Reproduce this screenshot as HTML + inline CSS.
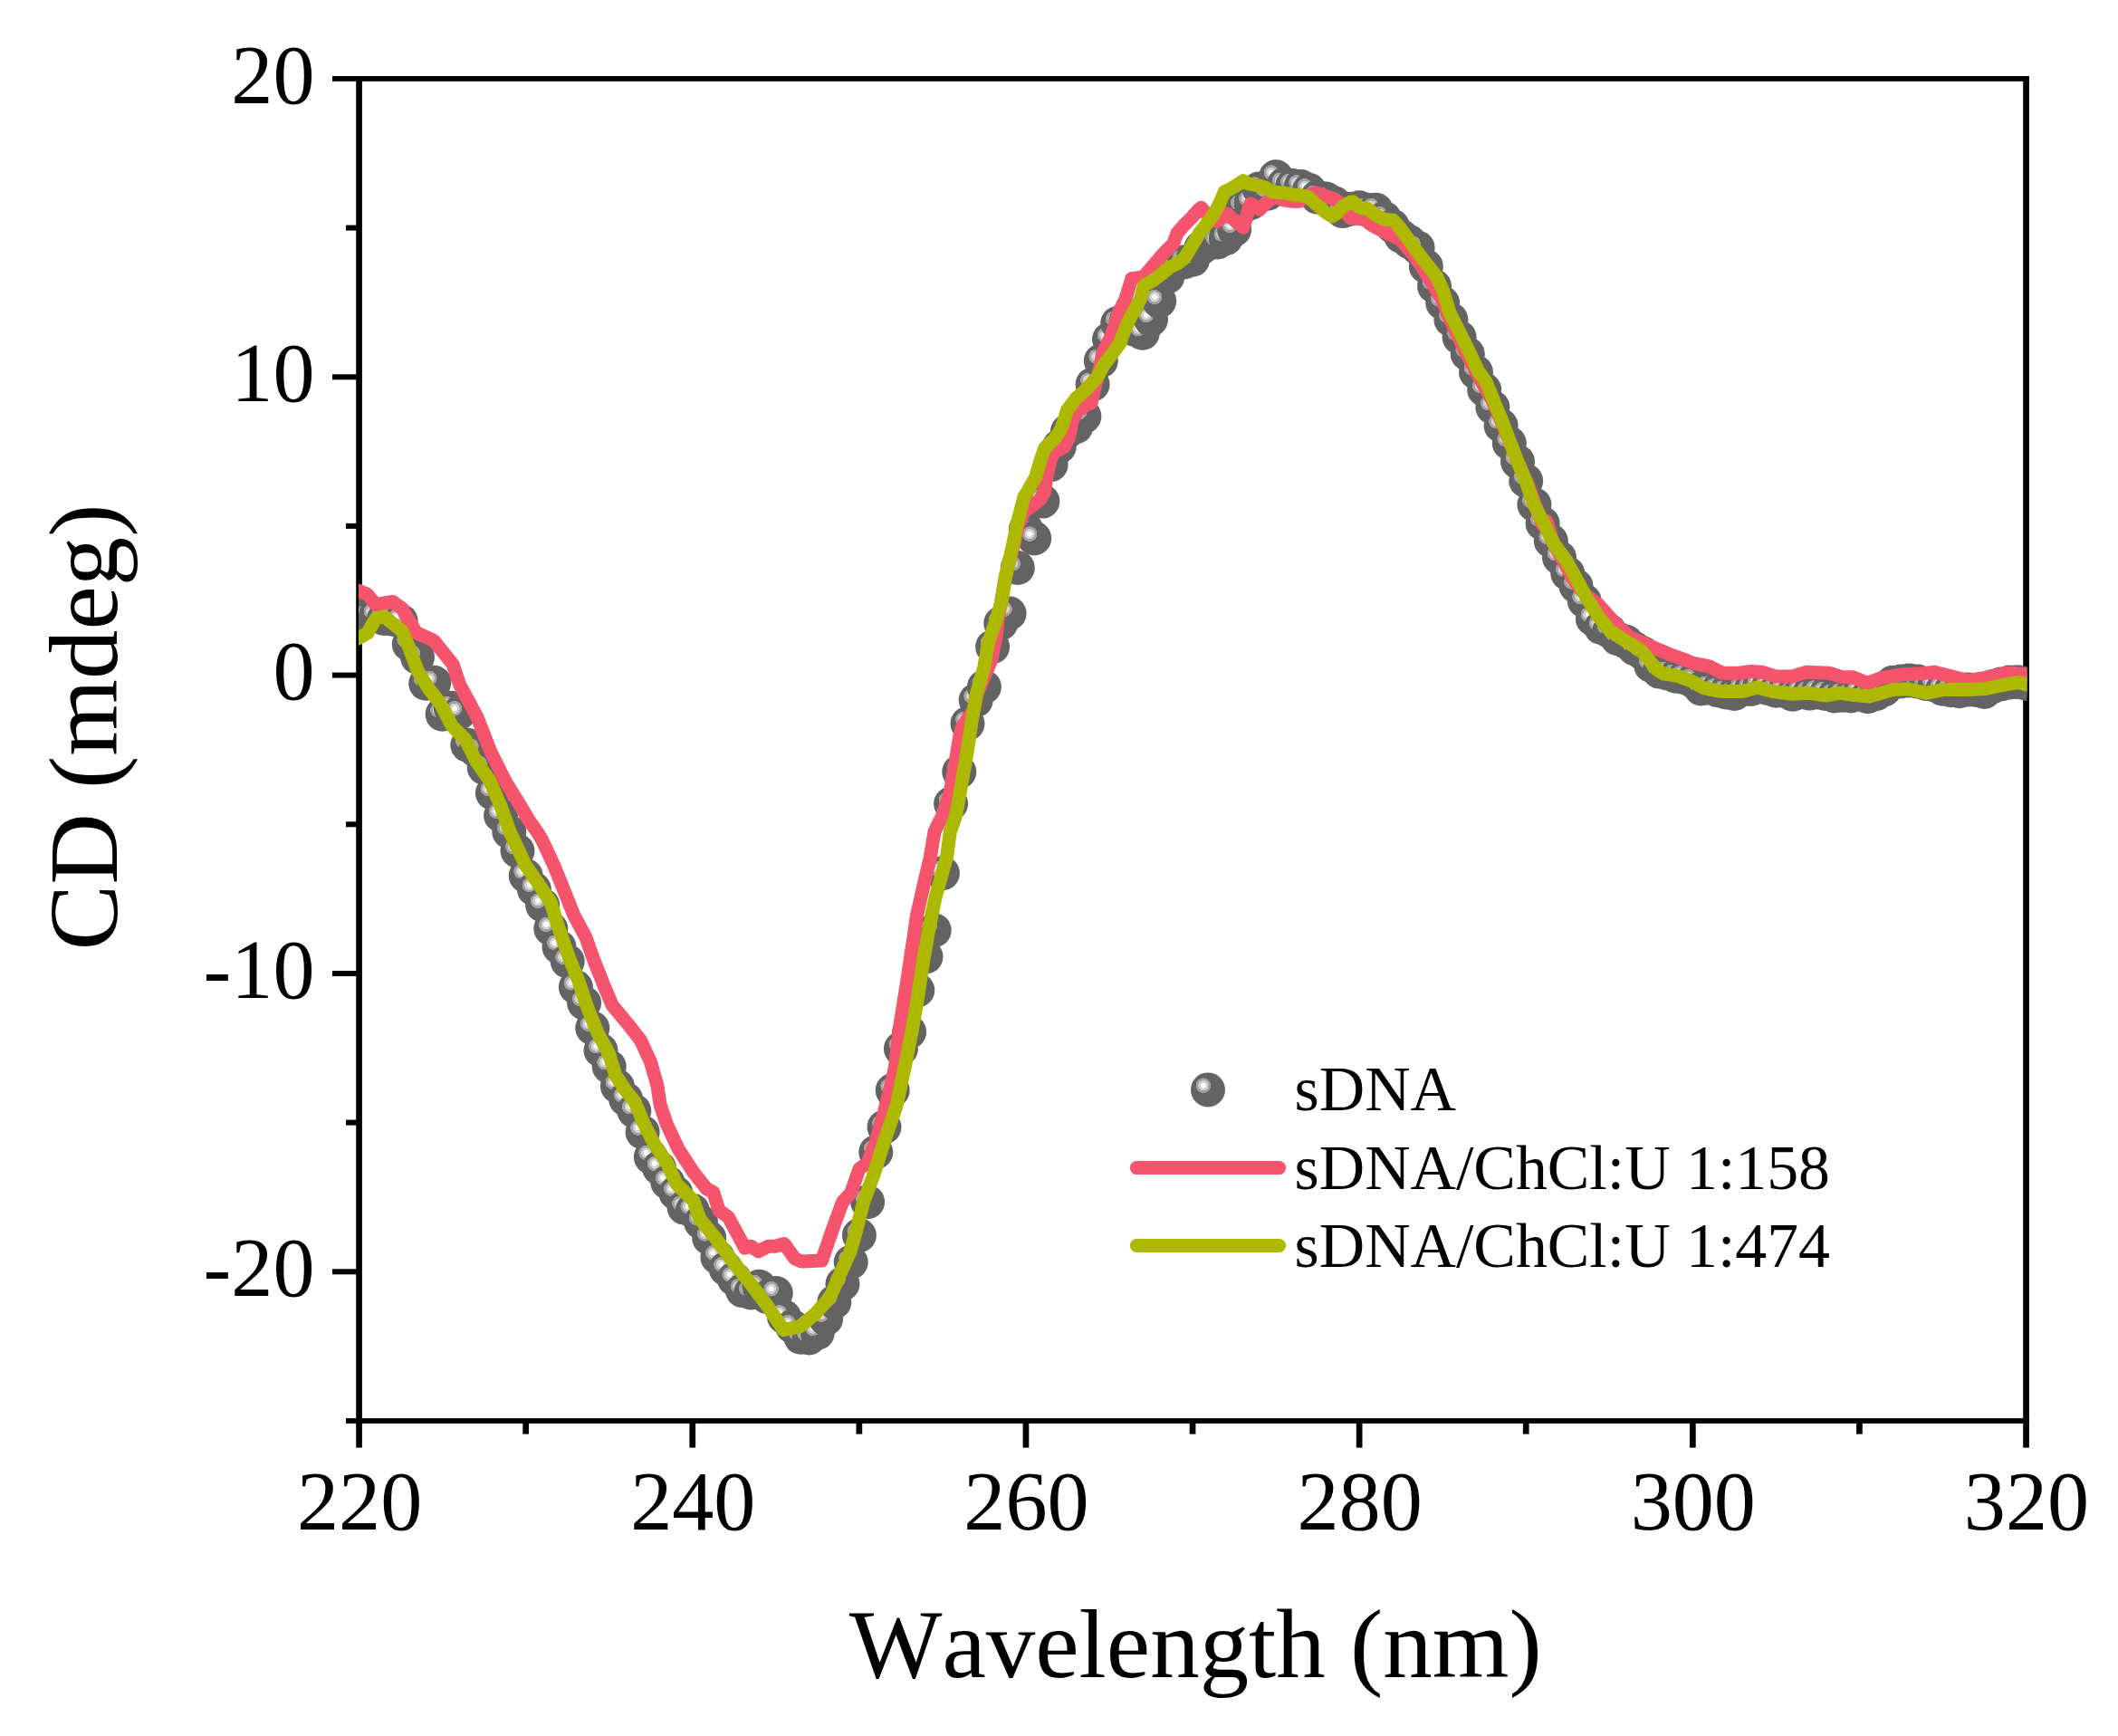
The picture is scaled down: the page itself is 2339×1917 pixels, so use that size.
<!DOCTYPE html>
<html lang="en"><head><meta charset="utf-8"><title>CD spectra</title>
<style>
html,body{margin:0;padding:0;background:#fff}
body{width:2339px;height:1917px;overflow:hidden}
svg{display:block}
text{font-family:"Liberation Serif","Times New Roman",serif;fill:#000;font-kerning:none}
.tk{font-size:92.2px}
.ax{font-size:108.9px}
.lg{font-size:69.8px}
</style></head>
<body>
<svg width="2339" height="1917" viewBox="0 0 2339 1917">
<defs>
<radialGradient id="ball" cx="0.365" cy="0.375" r="0.22" fx="0.365" fy="0.375" gradientUnits="objectBoundingBox">
<stop offset="0" stop-color="#ffffff"/><stop offset="0.34" stop-color="#ffffff"/><stop offset="0.36" stop-color="#d2d2d2"/><stop offset="0.66" stop-color="#d2d2d2"/><stop offset="0.68" stop-color="#a2a2a2"/><stop offset="0.97" stop-color="#a2a2a2"/><stop offset="1" stop-color="#636363"/>
</radialGradient>
<clipPath id="plot"><rect x="396.0" y="86.9" width="1842.5" height="1482.1"/></clipPath>
</defs>
<rect width="2339" height="1917" fill="#fff"/>
<g fill="#000">
<rect x="393.2" y="84.0" width="6.7" height="1514.6"/>
<rect x="2234.2" y="84.0" width="6.7" height="1514.6"/>
<rect x="367.0" y="84.0" width="1873.8" height="5.8"/>
<rect x="382.0" y="1566.1" width="1858.8" height="5.8"/>
<rect x="367" y="413.3" width="29.6" height="6.0"/>
<rect x="367" y="742.6" width="29.6" height="6.0"/>
<rect x="367" y="1072.0" width="29.6" height="6.0"/>
<rect x="367" y="1401.3" width="29.6" height="6.0"/>
<rect x="382" y="248.6" width="14.6" height="6.0"/>
<rect x="382" y="577.9" width="14.6" height="6.0"/>
<rect x="382" y="907.3" width="14.6" height="6.0"/>
<rect x="382" y="1236.6" width="14.6" height="6.0"/>
<rect x="761.4" y="1569.0" width="6.7" height="29.6"/>
<rect x="1129.6" y="1569.0" width="6.7" height="29.6"/>
<rect x="1497.8" y="1569.0" width="6.7" height="29.6"/>
<rect x="1866.0" y="1569.0" width="6.7" height="29.6"/>
<rect x="577.3" y="1569.0" width="6.7" height="14.6"/>
<rect x="945.5" y="1569.0" width="6.7" height="14.6"/>
<rect x="1313.7" y="1569.0" width="6.7" height="14.6"/>
<rect x="1681.9" y="1569.0" width="6.7" height="14.6"/>
<rect x="2050.1" y="1569.0" width="6.7" height="14.6"/>
</g>
<g clip-path="url(#plot)">
<g fill="url(#ball)">
<circle cx="396.6" cy="677.4" r="19"/>
<circle cx="405.8" cy="682.0" r="19"/>
<circle cx="415.0" cy="679.7" r="19"/>
<circle cx="424.2" cy="683.0" r="19"/>
<circle cx="433.4" cy="683.7" r="19"/>
<circle cx="442.6" cy="685.7" r="19"/>
<circle cx="451.8" cy="711.4" r="19"/>
<circle cx="461.0" cy="725.8" r="19"/>
<circle cx="470.2" cy="754.8" r="19"/>
<circle cx="479.4" cy="753.8" r="19"/>
<circle cx="488.6" cy="788.8" r="19"/>
<circle cx="497.8" cy="781.8" r="19"/>
<circle cx="507.1" cy="787.1" r="19"/>
<circle cx="516.3" cy="822.7" r="19"/>
<circle cx="525.5" cy="828.6" r="19"/>
<circle cx="534.7" cy="847.7" r="19"/>
<circle cx="543.9" cy="875.7" r="19"/>
<circle cx="553.1" cy="900.4" r="19"/>
<circle cx="562.3" cy="918.5" r="19"/>
<circle cx="571.5" cy="939.6" r="19"/>
<circle cx="580.7" cy="967.1" r="19"/>
<circle cx="589.9" cy="981.9" r="19"/>
<circle cx="599.1" cy="999.5" r="19"/>
<circle cx="608.3" cy="1025.6" r="19"/>
<circle cx="617.5" cy="1045.7" r="19"/>
<circle cx="626.7" cy="1061.5" r="19"/>
<circle cx="635.9" cy="1090.1" r="19"/>
<circle cx="645.1" cy="1107.6" r="19"/>
<circle cx="654.3" cy="1135.2" r="19"/>
<circle cx="663.5" cy="1159.9" r="19"/>
<circle cx="672.7" cy="1177.7" r="19"/>
<circle cx="681.9" cy="1199.6" r="19"/>
<circle cx="691.1" cy="1213.8" r="19"/>
<circle cx="700.3" cy="1226.8" r="19"/>
<circle cx="709.6" cy="1250.2" r="19"/>
<circle cx="718.8" cy="1277.8" r="19"/>
<circle cx="728.0" cy="1289.7" r="19"/>
<circle cx="737.2" cy="1305.5" r="19"/>
<circle cx="746.4" cy="1317.4" r="19"/>
<circle cx="755.6" cy="1333.6" r="19"/>
<circle cx="764.8" cy="1336.8" r="19"/>
<circle cx="774.0" cy="1349.6" r="19"/>
<circle cx="783.2" cy="1367.1" r="19"/>
<circle cx="792.4" cy="1388.2" r="19"/>
<circle cx="801.6" cy="1401.0" r="19"/>
<circle cx="810.8" cy="1412.2" r="19"/>
<circle cx="820.0" cy="1425.1" r="19"/>
<circle cx="829.2" cy="1427.4" r="19"/>
<circle cx="838.4" cy="1420.8" r="19"/>
<circle cx="847.6" cy="1432.3" r="19"/>
<circle cx="856.8" cy="1428.0" r="19"/>
<circle cx="866.0" cy="1454.1" r="19"/>
<circle cx="875.2" cy="1464.9" r="19"/>
<circle cx="884.4" cy="1476.8" r="19"/>
<circle cx="893.6" cy="1477.4" r="19"/>
<circle cx="902.8" cy="1471.8" r="19"/>
<circle cx="912.1" cy="1456.4" r="19"/>
<circle cx="921.3" cy="1437.9" r="19"/>
<circle cx="930.5" cy="1417.8" r="19"/>
<circle cx="939.7" cy="1393.8" r="19"/>
<circle cx="948.9" cy="1364.1" r="19"/>
<circle cx="958.1" cy="1327.3" r="19"/>
<circle cx="967.3" cy="1272.3" r="19"/>
<circle cx="976.5" cy="1244.6" r="19"/>
<circle cx="985.7" cy="1204.1" r="19"/>
<circle cx="994.9" cy="1158.0" r="19"/>
<circle cx="1004.1" cy="1139.5" r="19"/>
<circle cx="1013.3" cy="1093.4" r="19"/>
<circle cx="1022.5" cy="1056.5" r="19"/>
<circle cx="1031.7" cy="1027.2" r="19"/>
<circle cx="1040.9" cy="964.3" r="19"/>
<circle cx="1050.1" cy="887.6" r="19"/>
<circle cx="1059.3" cy="852.3" r="19"/>
<circle cx="1068.5" cy="799.0" r="19"/>
<circle cx="1077.7" cy="773.3" r="19"/>
<circle cx="1086.9" cy="758.5" r="19"/>
<circle cx="1096.1" cy="714.3" r="19"/>
<circle cx="1105.3" cy="688.3" r="19"/>
<circle cx="1114.6" cy="677.4" r="19"/>
<circle cx="1123.8" cy="627.0" r="19"/>
<circle cx="1133.0" cy="584.2" r="19"/>
<circle cx="1142.2" cy="594.4" r="19"/>
<circle cx="1151.4" cy="553.6" r="19"/>
<circle cx="1160.6" cy="513.1" r="19"/>
<circle cx="1169.8" cy="493.0" r="19"/>
<circle cx="1179.0" cy="476.2" r="19"/>
<circle cx="1188.2" cy="471.3" r="19"/>
<circle cx="1197.4" cy="459.7" r="19"/>
<circle cx="1206.6" cy="424.5" r="19"/>
<circle cx="1215.8" cy="398.5" r="19"/>
<circle cx="1225.0" cy="374.8" r="19"/>
<circle cx="1234.2" cy="357.0" r="19"/>
<circle cx="1243.4" cy="355.3" r="19"/>
<circle cx="1252.6" cy="363.6" r="19"/>
<circle cx="1261.8" cy="367.8" r="19"/>
<circle cx="1271.0" cy="352.7" r="19"/>
<circle cx="1280.2" cy="332.6" r="19"/>
<circle cx="1289.4" cy="305.6" r="19"/>
<circle cx="1298.6" cy="291.4" r="19"/>
<circle cx="1307.8" cy="289.5" r="19"/>
<circle cx="1317.1" cy="286.8" r="19"/>
<circle cx="1326.3" cy="274.0" r="19"/>
<circle cx="1335.5" cy="268.4" r="19"/>
<circle cx="1344.7" cy="267.4" r="19"/>
<circle cx="1353.9" cy="263.1" r="19"/>
<circle cx="1363.1" cy="253.6" r="19"/>
<circle cx="1372.3" cy="228.5" r="19"/>
<circle cx="1381.5" cy="223.9" r="19"/>
<circle cx="1390.7" cy="208.4" r="19"/>
<circle cx="1399.9" cy="213.7" r="19"/>
<circle cx="1409.1" cy="195.3" r="19"/>
<circle cx="1418.3" cy="203.5" r="19"/>
<circle cx="1427.5" cy="205.1" r="19"/>
<circle cx="1436.7" cy="206.1" r="19"/>
<circle cx="1445.9" cy="210.1" r="19"/>
<circle cx="1455.1" cy="217.7" r="19"/>
<circle cx="1464.3" cy="219.6" r="19"/>
<circle cx="1473.5" cy="224.2" r="19"/>
<circle cx="1482.7" cy="233.1" r="19"/>
<circle cx="1491.9" cy="230.8" r="19"/>
<circle cx="1501.1" cy="229.2" r="19"/>
<circle cx="1510.3" cy="231.8" r="19"/>
<circle cx="1519.5" cy="231.8" r="19"/>
<circle cx="1528.8" cy="241.0" r="19"/>
<circle cx="1538.0" cy="249.9" r="19"/>
<circle cx="1547.2" cy="260.8" r="19"/>
<circle cx="1556.4" cy="267.1" r="19"/>
<circle cx="1565.6" cy="273.6" r="19"/>
<circle cx="1574.8" cy="294.1" r="19"/>
<circle cx="1584.0" cy="316.1" r="19"/>
<circle cx="1593.2" cy="334.6" r="19"/>
<circle cx="1602.4" cy="353.0" r="19"/>
<circle cx="1611.6" cy="372.5" r="19"/>
<circle cx="1620.8" cy="390.9" r="19"/>
<circle cx="1630.0" cy="411.0" r="19"/>
<circle cx="1639.2" cy="430.4" r="19"/>
<circle cx="1648.4" cy="449.8" r="19"/>
<circle cx="1657.6" cy="469.9" r="19"/>
<circle cx="1666.8" cy="489.4" r="19"/>
<circle cx="1676.0" cy="509.8" r="19"/>
<circle cx="1685.2" cy="530.9" r="19"/>
<circle cx="1694.4" cy="557.2" r="19"/>
<circle cx="1703.6" cy="578.0" r="19"/>
<circle cx="1712.8" cy="597.4" r="19"/>
<circle cx="1722.0" cy="615.8" r="19"/>
<circle cx="1731.3" cy="633.3" r="19"/>
<circle cx="1740.5" cy="647.1" r="19"/>
<circle cx="1749.7" cy="663.6" r="19"/>
<circle cx="1758.9" cy="683.4" r="19"/>
<circle cx="1768.1" cy="693.0" r="19"/>
<circle cx="1777.3" cy="696.7" r="19"/>
<circle cx="1786.5" cy="705.3" r="19"/>
<circle cx="1795.7" cy="708.7" r="19"/>
<circle cx="1804.9" cy="716.1" r="19"/>
<circle cx="1814.1" cy="721.3" r="19"/>
<circle cx="1823.3" cy="734.9" r="19"/>
<circle cx="1832.5" cy="741.6" r="19"/>
<circle cx="1841.7" cy="743.6" r="19"/>
<circle cx="1850.9" cy="746.7" r="19"/>
<circle cx="1860.1" cy="748.2" r="19"/>
<circle cx="1869.3" cy="751.9" r="19"/>
<circle cx="1878.5" cy="760.4" r="19"/>
<circle cx="1887.7" cy="759.6" r="19"/>
<circle cx="1896.9" cy="762.3" r="19"/>
<circle cx="1906.1" cy="764.5" r="19"/>
<circle cx="1915.3" cy="766.0" r="19"/>
<circle cx="1924.5" cy="761.5" r="19"/>
<circle cx="1933.8" cy="761.0" r="19"/>
<circle cx="1943.0" cy="758.3" r="19"/>
<circle cx="1952.2" cy="760.0" r="19"/>
<circle cx="1961.4" cy="762.8" r="19"/>
<circle cx="1970.6" cy="762.9" r="19"/>
<circle cx="1979.8" cy="766.8" r="19"/>
<circle cx="1989.0" cy="764.2" r="19"/>
<circle cx="1998.2" cy="765.6" r="19"/>
<circle cx="2007.4" cy="764.4" r="19"/>
<circle cx="2016.6" cy="766.1" r="19"/>
<circle cx="2025.8" cy="768.5" r="19"/>
<circle cx="2035.0" cy="767.7" r="19"/>
<circle cx="2044.2" cy="768.4" r="19"/>
<circle cx="2053.4" cy="765.5" r="19"/>
<circle cx="2062.6" cy="769.2" r="19"/>
<circle cx="2071.8" cy="766.2" r="19"/>
<circle cx="2081.0" cy="761.4" r="19"/>
<circle cx="2090.2" cy="753.7" r="19"/>
<circle cx="2099.4" cy="752.5" r="19"/>
<circle cx="2108.6" cy="751.4" r="19"/>
<circle cx="2117.8" cy="752.6" r="19"/>
<circle cx="2127.0" cy="755.0" r="19"/>
<circle cx="2136.3" cy="756.4" r="19"/>
<circle cx="2145.5" cy="760.7" r="19"/>
<circle cx="2154.7" cy="762.2" r="19"/>
<circle cx="2163.9" cy="763.2" r="19"/>
<circle cx="2173.1" cy="761.6" r="19"/>
<circle cx="2182.3" cy="761.9" r="19"/>
<circle cx="2191.5" cy="763.9" r="19"/>
<circle cx="2200.7" cy="758.1" r="19"/>
<circle cx="2209.9" cy="755.4" r="19"/>
<circle cx="2219.1" cy="753.6" r="19"/>
<circle cx="2228.3" cy="753.3" r="19"/>
<circle cx="2237.5" cy="754.7" r="19"/>
</g>
<polyline fill="none" stroke="#f5546c" stroke-width="15" stroke-linejoin="round" stroke-linecap="butt" points="384.9,648.3 396.6,652.5 405.8,656.4 415.0,667.8 424.2,666.0 433.8,664.5 443.9,671.9 459.6,698.6 478.9,707.3 500.1,733.6 507.5,755.7 526.9,791.7 541.6,829.5 559.1,864.5 571.1,883.8 584.0,905.6 594.1,919.9 598.7,927.6 611.6,955.3 622.7,982.9 633.8,1010.6 646.7,1034.5 655.9,1060.4 666.9,1088.0 676.2,1110.1 694.6,1132.2 707.5,1148.8 718.5,1172.8 725.9,1198.6 729.1,1220.0 736.1,1240.8 749.0,1268.5 765.6,1294.3 780.3,1312.7 787.7,1316.4 794.1,1336.7 804.3,1344.0 822.7,1378.1 829.2,1376.3 837.4,1381.8 848.5,1376.3 855.9,1376.3 866.0,1373.5 878.0,1390.1 885.4,1392.9 907.5,1392.0 921.3,1352.3 930.5,1327.4 939.7,1317.3 949.0,1290.6 958.2,1284.1 967.2,1261.1 976.4,1227.9 985.7,1191.2 988.7,1176.5 994.2,1130.4 1001.6,1084.3 1007.1,1047.4 1012.6,1010.6 1020.9,973.7 1027.4,946.1 1032.0,918.4 1041.0,900.1 1048.9,876.5 1055.4,839.6 1060.0,812.0 1062.6,802.7 1075.1,784.3 1079.2,765.9 1088.4,743.8 1094.8,729.0 1100.3,701.4 1102.2,682.9 1105.7,664.5 1110.3,636.9 1119.9,600.0 1124.5,579.6 1131.0,564.9 1148.5,552.0 1153.4,543.1 1155.9,526.4 1160.2,508.0 1163.8,499.4 1174.9,493.9 1180.4,483.4 1184.1,465.0 1189.6,454.0 1198.2,447.8 1205.0,444.8 1207.4,435.6 1209.9,423.3 1214.8,406.1 1217.2,391.4 1224.6,376.6 1230.7,360.7 1235.6,344.7 1243.0,330.0 1249.8,307.7 1262.7,305.9 1273.7,293.0 1284.8,280.1 1295.8,269.0 1300.0,257.5 1307.4,248.9 1316.0,240.4 1323.3,232.0 1326.4,229.3 1334.4,238.4 1343.8,244.5 1354.6,236.1 1373.0,251.2 1381.0,225.0 1391.5,231.1 1398.2,223.8 1408.0,216.9 1417.8,221.1 1427.7,222.2 1435.0,222.3 1441.2,216.9 1453.5,212.7 1463.3,216.4 1474.3,220.1 1481.7,226.2 1486.6,234.7 1491.5,240.7 1506.2,241.9 1513.6,247.6 1521.0,252.1 1546.6,264.4 1560.2,280.4 1570.0,293.9 1582.5,313.9 1592.6,331.6 1602.6,355.2 1612.4,376.0 1622.3,395.7 1629.6,409.9 1647.1,440.6 1656.9,462.7 1666.6,486.7 1676.4,510.7 1686.5,532.8 1694.5,554.9 1703.7,580.0 1707.9,575.3 1715.3,599.3 1726.4,619.5 1737.4,639.8 1750.3,656.4 1765.1,667.4 1779.8,684.0 1798.2,702.5 1822.2,713.5 1844.3,722.7 1862.7,729.2 1869.0,732.2 1887.4,735.8 1902.2,743.2 1920.6,743.2 1933.5,741.4 1946.4,742.3 1961.2,746.9 1979.6,746.9 1994.3,742.3 2020.1,743.2 2034.9,747.8 2045.9,747.8 2062.5,754.3 2077.3,748.7 2099.4,745.1 2117.8,744.1 2136.3,742.3 2154.7,746.9 2173.1,751.5 2191.5,748.7 2215.5,743.2 2230.3,744.1 2238.5,745.1 2248.7,745.4"/>
<polyline fill="none" stroke="#adb900" stroke-width="15" stroke-linejoin="round" stroke-linecap="butt" points="384.9,710.6 396.6,704.1 405.8,699.2 415.0,682.9 424.2,680.7 443.9,696.8 452.2,716.1 461.4,741.0 473.4,760.4 486.3,776.9 499.2,801.8 514.0,816.6 525.9,840.5 540.7,861.7 552.7,889.4 563.7,920.0 567.4,927.6 580.3,955.3 593.2,973.7 608.0,995.8 617.2,1025.3 628.2,1056.7 639.3,1084.3 648.5,1112.0 659.6,1139.6 672.5,1163.6 679.8,1187.5 690.9,1204.1 701.1,1216.9 710.3,1239.0 721.3,1261.1 736.1,1283.2 747.1,1307.2 765.6,1325.6 772.9,1345.9 789.5,1366.2 804.3,1386.4 817.2,1403.0 831.9,1421.4 848.5,1443.6 865.1,1468.4 883.5,1464.8 900.1,1450.9 916.7,1432.5 927.8,1406.7 938.8,1382.7 946.2,1356.9 953.6,1327.4 964.6,1298.0 975.7,1262.9 990.3,1220.0 999.5,1176.5 1006.9,1139.6 1013.4,1102.7 1018.9,1065.9 1025.3,1029.0 1032.7,992.2 1037.9,973.7 1045.6,946.1 1049.3,918.4 1055.7,900.1 1060.0,876.5 1068.1,830.4 1073.6,793.5 1078.4,765.9 1086.5,738.2 1091.3,710.6 1100.5,682.9 1106.1,664.5 1110.5,636.9 1115.6,614.7 1119.0,599.9 1123.0,579.6 1131.0,548.3 1134.6,543.1 1143.8,526.4 1149.1,508.0 1154.0,494.5 1164.4,484.7 1170.6,476.1 1174.9,465.0 1178.6,452.8 1187.8,440.5 1197.6,431.9 1205.6,423.3 1212.3,415.9 1218.5,403.7 1227.7,391.4 1236.9,379.1 1241.2,366.8 1246.1,354.6 1252.8,342.3 1259.6,330.0 1263.6,315.1 1273.7,309.6 1292.2,294.8 1300.0,291.2 1308.0,285.0 1316.0,272.1 1324.6,257.4 1331.9,248.2 1340.5,236.5 1347.9,222.4 1352.2,212.0 1358.3,208.9 1365.7,204.6 1373.0,199.7 1378.6,202.8 1389.6,205.0 1398.2,207.5 1405.6,212.0 1417.2,212.9 1430.1,215.3 1444.2,216.9 1452.8,224.9 1462.0,232.9 1471.2,239.0 1476.8,235.3 1482.9,228.0 1490.9,223.4 1494.0,222.7 1501.3,229.2 1511.1,231.0 1519.7,237.8 1528.3,242.1 1538.8,243.3 1546.7,252.5 1552.9,261.1 1560.0,270.3 1561.3,272.7 1572.3,287.4 1587.0,305.9 1593.5,320.8 1600.8,344.8 1611.9,366.9 1622.9,389.0 1632.2,409.3 1641.4,422.2 1648.7,440.6 1658.0,462.7 1667.2,486.7 1676.4,510.7 1685.6,532.8 1693.0,554.9 1706.1,579.9 1715.3,599.3 1730.0,619.5 1741.1,639.8 1752.2,660.1 1765.1,680.4 1778.0,696.9 1792.7,706.2 1813.0,719.1 1829.6,739.3 1836.9,743.9 1853.5,746.7 1868.3,752.2 1881.2,759.6 1899.6,763.3 1905.9,763.5 1924.3,763.5 1940.9,758.9 1957.5,763.5 1979.6,766.3 1998.0,765.3 2016.4,768.1 2031.2,765.3 2045.9,767.2 2064.4,769.0 2090.2,761.6 2106.8,760.7 2127.0,765.3 2145.5,761.6 2173.1,761.6 2191.5,760.7 2210.0,757.0 2228.4,753.4 2238.5,756.1 2248.7,758.0"/>
</g>
<text class="tk" x="397.1" y="1689" text-anchor="middle">220</text>
<text class="tk" x="765.3" y="1689" text-anchor="middle">240</text>
<text class="tk" x="1133.5" y="1689" text-anchor="middle">260</text>
<text class="tk" x="1501.6" y="1689" text-anchor="middle">280</text>
<text class="tk" x="1869.8" y="1689" text-anchor="middle">300</text>
<text class="tk" x="2238.0" y="1689" text-anchor="middle">320</text>
<text class="tk" x="347.5" y="113.7" text-anchor="end">20</text>
<text class="tk" x="347.5" y="443.1" text-anchor="end">10</text>
<text class="tk" x="347.5" y="772.4" text-anchor="end">0</text>
<text class="tk" x="347.5" y="1101.8" text-anchor="end">-10</text>
<text class="tk" x="347.5" y="1431.1" text-anchor="end">-20</text>
<text class="ax" x="1320.2" y="1851.6" text-anchor="middle">Wavelength (nm)</text>
<text class="ax" transform="translate(129,803) rotate(-90)" text-anchor="middle">CD (mdeg)</text>
<circle cx="1334" cy="1203.4" r="19" fill="url(#ball)"/>
<line x1="1255.3" y1="1289.6" x2="1412.6" y2="1289.6" stroke="#f5546c" stroke-width="15" stroke-linecap="round"/>
<line x1="1255.3" y1="1375.5" x2="1412.6" y2="1375.5" stroke="#adb900" stroke-width="15" stroke-linecap="round"/>
<text class="lg" x="1429.6" y="1226.3">sDNA</text>
<text class="lg" x="1429.6" y="1312.8">sDNA/ChCl:U 1:158</text>
<text class="lg" x="1429.6" y="1398.9">sDNA/ChCl:U 1:474</text>
</svg>
</body></html>
